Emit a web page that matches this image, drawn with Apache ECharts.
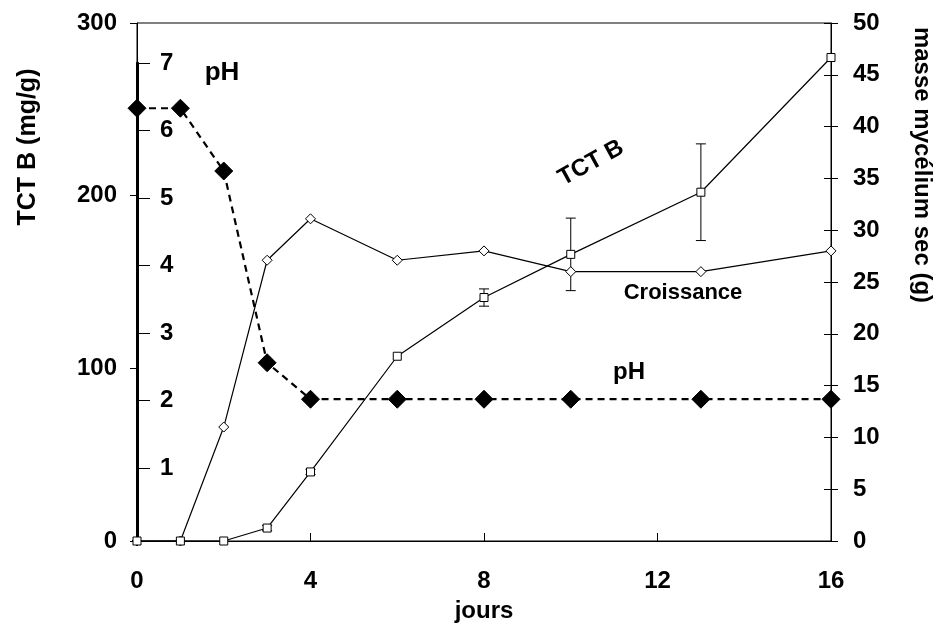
<!DOCTYPE html>
<html>
<head>
<meta charset="utf-8">
<script src="https://cdn.jsdelivr.net/npm/echarts@6/dist/echarts.min.js"></script>
<style>html,body{margin:0;padding:0;background:#fff}#c{width:945px;height:626px}</style>
</head>
<body>
<div id="c"></div>
<script>
const days = [0, 1, 2, 3, 4, 6, 8, 10, 13, 16];
const tctB = [0, 0, 0, 7.5, 40, 107, 141, 166, 202, 280];
const tctErr = [0, 0, 0, 1.5, 1.5, 0, 5, 21, 28, 0];
const croissance = [0, 0, 11, 27.1, 31.1, 27.1, 28, 26, 26, 28];
const pH = [6.33, 6.33, 5.4, 2.56, 2.02, 2.02, 2.02, 2.02, 2.02, 2.02];
const xTicks = [0, 4, 8, 12, 16];
const pHTicks = [1, 2, 3, 4, 5, 6, 7];

const F = 'Liberation Sans, Arial, sans-serif';
const lab = {color: '#000', fontFamily: F, fontWeight: 'bold', fontSize: 24};

const chart = echarts.init(document.getElementById('c'), null, {renderer: 'canvas'});
const errData = days.map((d, i) => [d, tctB[i] - tctErr[i], tctB[i] + tctErr[i]]).filter((r, i) => tctErr[i] > 0);

chart.setOption({
  animation: false,
  backgroundColor: '#fff',
  grid: [
    {left: 137, right: 114, top: 23, bottom: 85, outerBoundsMode: 'none', containLabel: false, show: true, borderColor: '#000', borderWidth: 1, backgroundColor: 'transparent'},
    {left: 137, right: 114, top: 63, bottom: 85, outerBoundsMode: 'none', containLabel: false}
  ],
  xAxis: [
    {type: 'value', gridIndex: 0, min: 0, max: 16, interval: 4,
     name: 'jours', nameLocation: 'middle', nameGap: 58,
     nameTextStyle: Object.assign({}, lab),
     axisLine: {lineStyle: {color: '#000', width: 1}},
     axisTick: {inside: true, length: 8, lineStyle: {color: '#000'}},
     axisLabel: Object.assign({}, lab, {margin: 28, customValues: xTicks}),
     splitLine: {show: false}},
    {type: 'value', gridIndex: 1, min: 0, max: 16, show: false}
  ],
  yAxis: [
    {type: 'value', gridIndex: 0, position: 'left', min: 0, max: 300, interval: 100,
     axisLine: {show: true, lineStyle: {color: '#000', width: 1}},
     axisTick: {show: true, length: 7, lineStyle: {color: '#000'}},
     axisLabel: Object.assign({}, lab, {margin: 20}),
     splitLine: {show: false}},
    {type: 'value', gridIndex: 0, position: 'right', min: 0, max: 50, interval: 5,
     axisLine: {show: true, lineStyle: {color: '#000', width: 1}},
     axisTick: {show: true, length: 7, lineStyle: {color: '#000'}},
     axisLabel: Object.assign({}, lab, {margin: 22}),
     splitLine: {show: false}},
    {type: 'value', gridIndex: 0, position: 'right', min: 0, max: 50, interval: 5,
     axisLine: {show: false},
     axisTick: {show: true, inside: true, length: 7, lineStyle: {color: '#000'}},
     axisLabel: {show: false}, splitLine: {show: false}},
    {type: 'value', gridIndex: 1, position: 'left', min: -0.08, max: 7,
     axisLine: {show: true, lineStyle: {color: '#000', width: 3}},
     axisTick: {show: true, inside: true, length: 13, customValues: pHTicks, lineStyle: {color: '#000', width: 1}},
     axisLabel: Object.assign({}, lab, {inside: true, margin: 23, customValues: pHTicks}),
     splitLine: {show: false}}
  ],
  series: [
    {type: 'line', name: 'pH', xAxisIndex: 1, yAxisIndex: 3,
     data: days.map((d, i) => [d, pH[i]]),
     symbol: 'diamond', symbolSize: [18, 18],
     itemStyle: {color: '#000', borderColor: '#000'},
     lineStyle: {color: '#000', width: 2.2, type: [7, 5]}, z: 3},
    {type: 'line', name: 'Croissance', xAxisIndex: 0, yAxisIndex: 1,
     data: days.map((d, i) => [d, croissance[i]]),
     symbol: 'diamond', symbolSize: [10, 10], showAllSymbol: true,
     itemStyle: {color: '#fff', borderColor: '#000', borderWidth: 1},
     lineStyle: {color: '#000', width: 1.2}, z: 4},
    {type: 'custom', name: 'err', xAxisIndex: 0, yAxisIndex: 0,
     data: errData,
     renderItem: function (params, api) {
       const x = api.value(0);
       const lo = api.coord([x, api.value(1)]);
       const hi = api.coord([x, api.value(2)]);
       const w = 5;
       return {type: 'group', children: [
         {type: 'line', shape: {x1: lo[0], y1: lo[1], x2: hi[0], y2: hi[1]}, style: {stroke: '#000', lineWidth: 1}},
         {type: 'line', shape: {x1: lo[0] - w, y1: lo[1], x2: lo[0] + w, y2: lo[1]}, style: {stroke: '#000', lineWidth: 1}},
         {type: 'line', shape: {x1: hi[0] - w, y1: hi[1], x2: hi[0] + w, y2: hi[1]}, style: {stroke: '#000', lineWidth: 1}}
       ]};
     }, z: 4},
    {type: 'line', name: 'TCT B', xAxisIndex: 0, yAxisIndex: 0,
     data: days.map((d, i) => [d, tctB[i]]),
     symbol: 'rect', symbolSize: [8, 8], showAllSymbol: true,
     itemStyle: {color: '#fff', borderColor: '#000', borderWidth: 1},
     lineStyle: {color: '#000', width: 1.2}, z: 5}
  ],
  graphic: [
    {type: 'text', x: 28, y: 147, rotation: Math.PI / 2, style: {text: 'TCT B (mg/g)', font: 'bold 25px ' + F, fill: '#000', align: 'center', verticalAlign: 'middle'}},
    {type: 'text', x: 922, y: 165, rotation: -Math.PI / 2, style: {text: 'masse mycélium sec (g)', font: 'bold 24px ' + F, fill: '#000', align: 'center', verticalAlign: 'middle'}},
    {type: 'text', x: 222, y: 73, style: {text: 'pH', font: 'bold 26px ' + F, fill: '#000', align: 'center', verticalAlign: 'middle'}},
    {type: 'text', x: 591, y: 163, rotation: 0.5, style: {text: 'TCT B', font: 'bold 24px ' + F, fill: '#000', align: 'center', verticalAlign: 'middle', backgroundColor: '#fff', padding: [0, 2]}},
    {type: 'text', x: 683, y: 293, style: {text: 'Croissance', font: 'bold 22px ' + F, fill: '#000', align: 'center', verticalAlign: 'middle'}},
    {type: 'text', x: 629, y: 372, style: {text: 'pH', font: 'bold 24px ' + F, fill: '#000', align: 'center', verticalAlign: 'middle'}}
  ]
});
</script>
</body>
</html>
